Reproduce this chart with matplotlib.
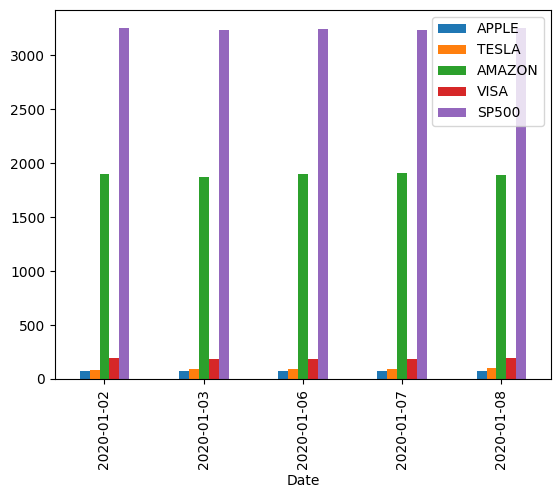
import matplotlib
matplotlib.use("Agg")
import matplotlib.pyplot as plt
import pandas as pd

dates = ["2020-01-02", "2020-01-03", "2020-01-06", "2020-01-07", "2020-01-08"]
apple = [75.09, 74.36, 74.95, 74.60, 75.80]
tesla = [86.05, 88.60, 90.31, 93.81, 98.43]
amazon = [1898.01, 1874.97, 1902.88, 1906.86, 1891.97]
visa = [191.12, 189.60, 189.19, 188.69, 191.92]
sp500 = [3257.85, 3234.85, 3246.28, 3237.18, 3253.05]

df = pd.DataFrame(
    {"APPLE": apple, "TESLA": tesla, "AMAZON": amazon, "VISA": visa, "SP500": sp500},
    index=pd.Index(dates, name="Date"),
)

fig, ax = plt.subplots(figsize=(5.6, 4.98), dpi=100)
df.plot.bar(ax=ax)
ax.legend(loc="upper right")

fig.subplots_adjust(left=0.098, right=0.984, top=0.980, bottom=0.239)
fig.savefig("out.png", dpi=100)
